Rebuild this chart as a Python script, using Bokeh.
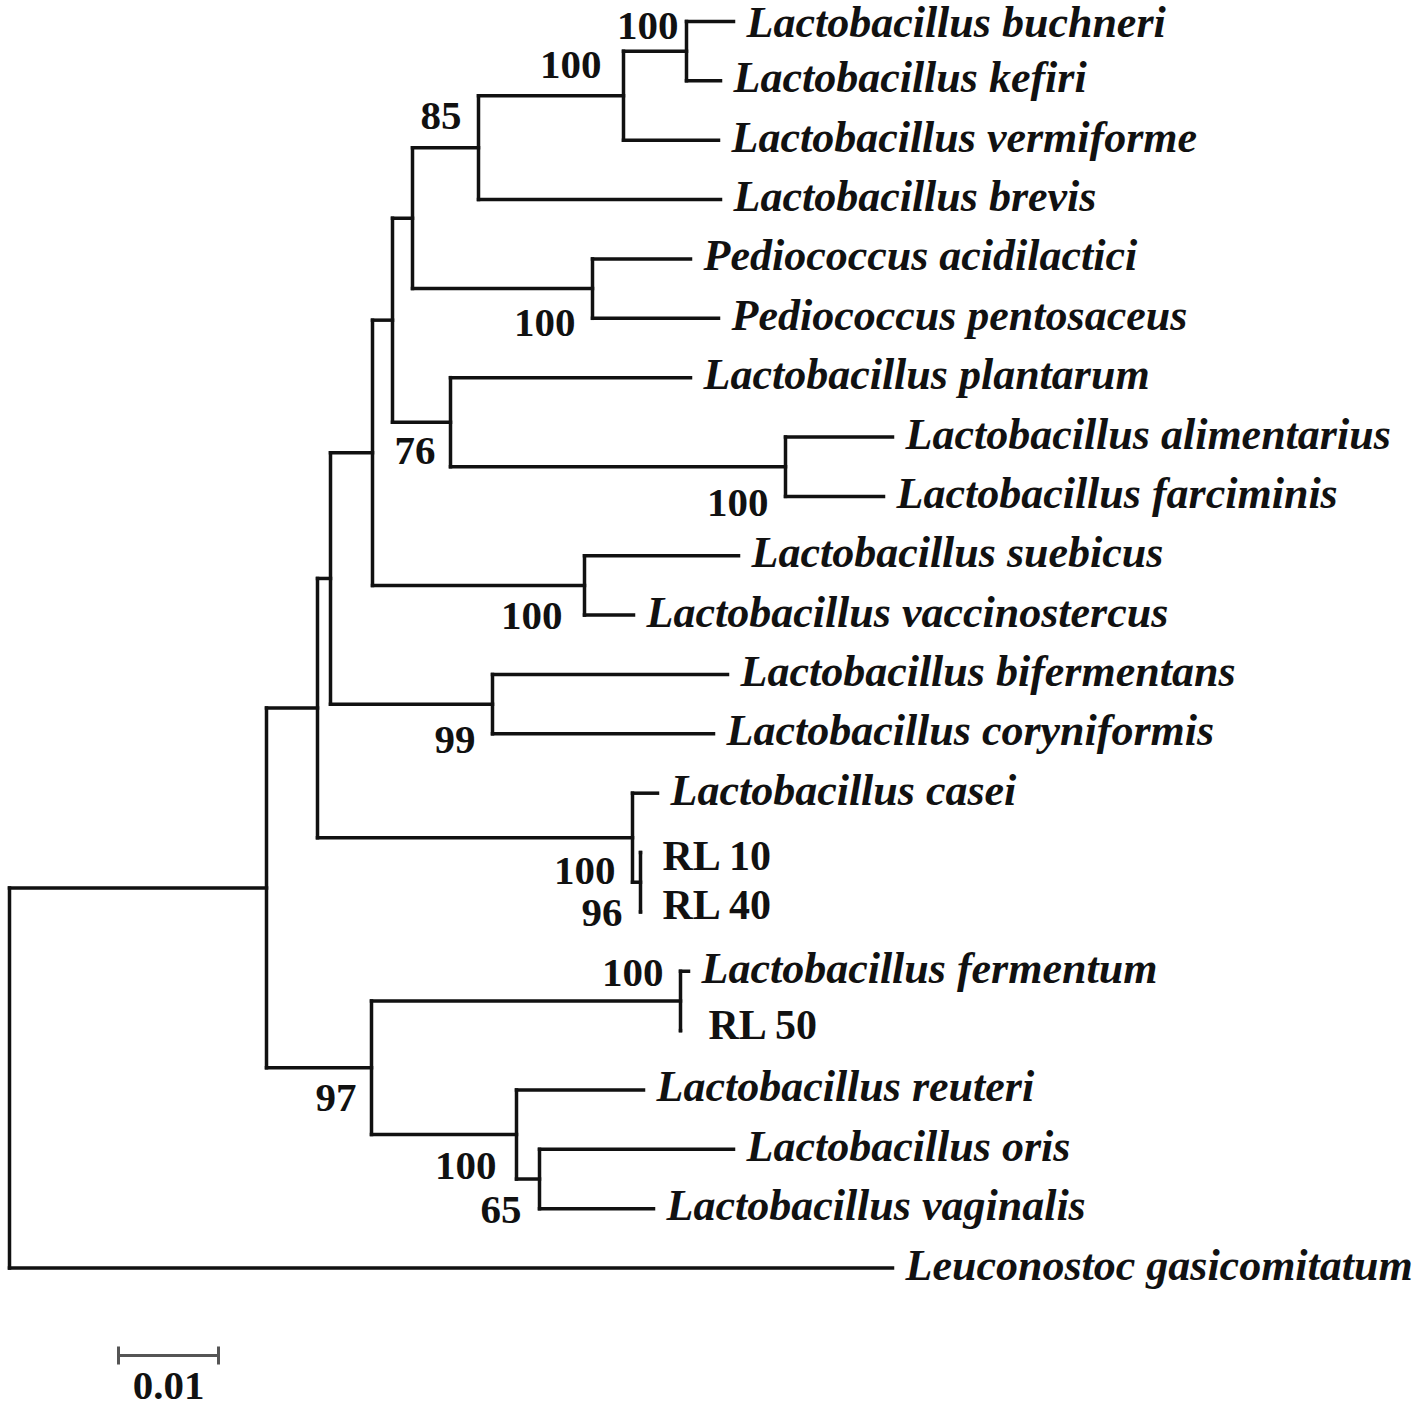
from bokeh.plotting import figure
from bokeh.models import Range1d, ColumnDataSource
from bokeh.core.properties import value
from bokeh.embed import file_html
from bokeh.resources import INLINE

# ---------------- data ----------------
leaf_names = [
    "Lactobacillus buchneri", "Lactobacillus kefiri", "Lactobacillus vermiforme",
    "Lactobacillus brevis", "Pediococcus acidilactici", "Pediococcus pentosaceus",
    "Lactobacillus plantarum", "Lactobacillus alimentarius", "Lactobacillus farciminis",
    "Lactobacillus suebicus", "Lactobacillus vaccinostercus", "Lactobacillus bifermentans",
    "Lactobacillus coryniformis", "Lactobacillus casei", "RL 10", "RL 40",
    "Lactobacillus fermentum", "RL 50", "Lactobacillus reuteri", "Lactobacillus oris",
    "Lactobacillus vaginalis", "Leuconostoc gasicomitatum",
]
# distance from root (substitutions per site)
leaf_depth = [
    0.0724, 0.0711, 0.0709, 0.0711, 0.0681, 0.0709, 0.0681, 0.0883, 0.0874,
    0.0729, 0.0624, 0.0718, 0.0704, 0.0648, 0.0631, 0.0631, 0.0679, 0.0671,
    0.0634, 0.0724, 0.0644, 0.0883,
]

node_names = ["I", "H", "G", "Ped", "F", "K", "J", "E", "Sue", "D", "Bif", "C",
              "RL", "Cas", "B", "Fer", "Ori", "Reu", "L97", "A", "root"]
node_depth = [0.0677, 0.0614, 0.0469, 0.0583, 0.0403, 0.0776, 0.0441, 0.0383,
              0.0575, 0.0363, 0.0483, 0.0321, 0.0631, 0.0623, 0.0308, 0.0671,
              0.0530, 0.0507, 0.0362, 0.0257, 0.0]
node_children = [
    ("Lactobacillus buchneri", "Lactobacillus kefiri"),
    ("I", "Lactobacillus vermiforme"),
    ("H", "Lactobacillus brevis"),
    ("Pediococcus acidilactici", "Pediococcus pentosaceus"),
    ("G", "Ped"),
    ("Lactobacillus alimentarius", "Lactobacillus farciminis"),
    ("Lactobacillus plantarum", "K"),
    ("F", "J"),
    ("Lactobacillus suebicus", "Lactobacillus vaccinostercus"),
    ("E", "Sue"),
    ("Lactobacillus bifermentans", "Lactobacillus coryniformis"),
    ("D", "Bif"),
    ("RL 10", "RL 40"),
    ("Lactobacillus casei", "RL"),
    ("C", "Cas"),
    ("Lactobacillus fermentum", "RL 50"),
    ("Lactobacillus oris", "Lactobacillus vaginalis"),
    ("Lactobacillus reuteri", "Ori"),
    ("Fer", "Reu"),
    ("B", "L97"),
    ("A", "Leuconostoc gasicomitatum"),
]
node_support = [100, 100, 85, 100, None, 100, 76, None, 100, None, 99, None,
                96, 100, None, 100, 65, 100, 97, None, None]

scale_length = 0.01
scale_label = "0.01"

# ---------------- label styling (screen offsets, px) ----------------
# bootstrap label: (child used as anchor 0=top/1=bottom, dy px, gap px to node)
BASE = -13
support_style = {
    "I": (0, 17, 8), "H": (0, 27, 22), "G": (0, 33, 17), "Ped": (1, 18, 17),
    "J": (1, -3, 15), "K": (1, 20, 17), "Sue": (1, 14, 22), "Bif": (1, 19, 17),
    "RL": (1, 14, 18), "Cas": (1, 2, 17), "Fer": (0, 15, 17), "L97": (1, -24, 15),
    "Reu": (1, 0, 20), "Ori": (1, 14, 18),
}
leaf_gap_default, leaf_dy_default = 13, 10
leaf_style = {"Lactobacillus buchneri": (13, 14),
              "RL 10": (22, 16), "RL 40": (22, 6), "RL 50": (28, 7)}

# ---------------- tree layout ----------------
depth = {}
ypos = {}
for i, (n, d) in enumerate(zip(leaf_names, leaf_depth)):
    depth[n] = d
    ypos[n] = float(i)
parent = {}
for n, d, ch in zip(node_names, node_depth, node_children):
    depth[n] = d
    ypos[n] = (ypos[ch[0]] + ypos[ch[1]]) / 2.0
    for c in ch:
        parent[c] = n

x0, y0, x1, y1 = [], [], [], []
for n in list(leaf_names) + node_names:
    if n in parent:
        x0.append(depth[parent[n]]); x1.append(depth[n])
        y0.append(ypos[n]); y1.append(ypos[n])
for n, ch in zip(node_names, node_children):
    x0.append(depth[n]); x1.append(depth[n])
    y0.append(ypos[ch[0]]); y1.append(ypos[ch[1]])

W, H = 1418, 1406
p = figure(width=W, height=H, output_backend="svg", toolbar_location=None,
           x_range=Range1d(-0.0009, -0.0009 + W / 10000.0),
           y_range=Range1d((H - 21) / 59.36, -21 / 59.36),
           x_axis_type=None, y_axis_type=None, min_border=0,
           outline_line_color=None, background_fill_color="white")
p.grid.visible = False

p.segment(x0="x0", y0="y0", x1="x1", y1="y1",
          source=ColumnDataSource(dict(x0=x0, y0=y0, x1=x1, y1=y1)),
          line_color="#111111", line_width=3.5, line_cap="square")

# leaf labels
it = dict(x=[], y=[], t=[], xo=[], yo=[])
up = dict(x=[], y=[], t=[], xo=[], yo=[])
for n in leaf_names:
    g, dy = leaf_style.get(n, (leaf_gap_default, leaf_dy_default))
    tgt = up if n.startswith("RL") else it
    tgt["x"].append(depth[n]); tgt["y"].append(ypos[n]); tgt["t"].append(n)
    tgt["xo"].append(g); tgt["yo"].append(dy + BASE)

p.text(x="x", y="y", text="t", x_offset="xo", y_offset="yo", source=ColumnDataSource(it),
       text_font=value("Liberation Serif"), text_font_style="bold italic",
       text_font_size="44px", text_baseline="alphabetic", text_align="left",
       text_color="#111111")
p.text(x="x", y="y", text="t", x_offset="xo", y_offset="yo", source=ColumnDataSource(up),
       text_font=value("Liberation Serif"), text_font_style="bold",
       text_font_size="42px", text_baseline="alphabetic", text_align="left",
       text_color="#111111")

# bootstrap values
bs = dict(x=[], y=[], t=[], xo=[], yo=[])
for n, ch, s in zip(node_names, node_children, node_support):
    if s is None:
        continue
    a, dy, g = support_style[n]
    bs["x"].append(depth[n]); bs["y"].append(ypos[ch[a]]); bs["t"].append(str(s))
    bs["xo"].append(-g); bs["yo"].append(dy + BASE)
p.text(x="x", y="y", text="t", x_offset="xo", y_offset="yo", source=ColumnDataSource(bs),
       text_font=value("Liberation Serif"), text_font_style="bold",
       text_font_size="41px", text_baseline="alphabetic", text_align="right",
       text_color="#111111")

# scale bar
sb_x, sb_y = 0.0109, (1355 - 21) / 59.36
tick = 0.15
p.segment(x0=[sb_x, sb_x, sb_x + scale_length], y0=[sb_y, sb_y - tick, sb_y - tick],
          x1=[sb_x + scale_length, sb_x, sb_x + scale_length], y1=[sb_y, sb_y + tick, sb_y + tick],
          line_color="#555555", line_width=3)
p.text(x=[sb_x + scale_length / 2], y=[sb_y], text=[scale_label], y_offset=[43 + BASE],
       text_font=value("Liberation Serif"), text_font_style="bold",
       text_font_size="41px", text_baseline="alphabetic", text_align="center",
       text_color="#111111")

open("out.html", "w").write(file_html(p, INLINE))
